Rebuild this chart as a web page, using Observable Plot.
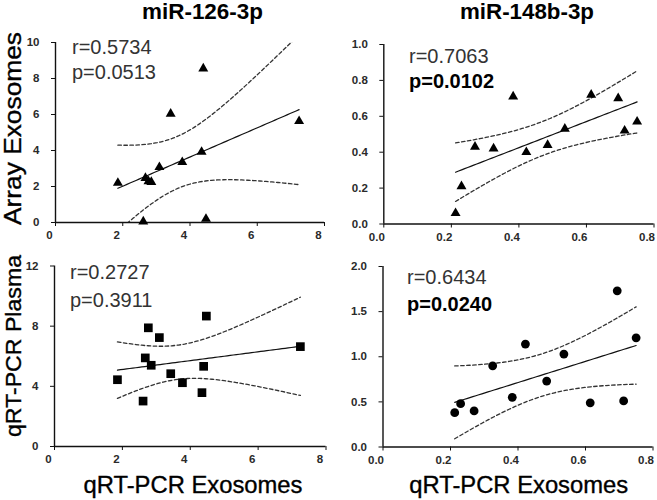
<!DOCTYPE html>
<html><head><meta charset="utf-8">
<script src="https://cdn.jsdelivr.net/npm/d3@7"></script>
<script src="https://cdn.jsdelivr.net/npm/@observablehq/plot@0.6"></script>
<style>
body{margin:0;background:#fff;}
#wrap{position:relative;width:657px;height:500px;overflow:hidden;font-family:"Liberation Sans",Arial,sans-serif;background:#fff;}
#wrap svg{position:absolute;left:0;top:0;}
</style></head><body><div id="wrap"></div>
<script>
// ---- data ----
const columnTitles = ["miR-126-3p", "miR-148b-3p"];
const rowLabels = ["Array Exosomes", "qRT-PCR Plasma"];
const xLabel = "qRT-PCR Exosomes";

// qRT-PCR exosome values (x), shared by the left column
const x126 = [1.855, 2.61, 2.675, 2.765, 2.85, 3.09, 3.425, 3.77, 4.345, 4.395, 4.475, 7.245];
const array126 = [2.2, 0.05, 2.47, 2.29, 2.25, 3.07, 6.04, 3.35, 3.92, 8.55, 0.2, 5.63];
const plasma126 = [4.44, 3.02, 5.89, 7.89, 5.40, 7.24, 4.84, 4.24, 3.58, 5.33, 8.67, 6.64];

// qRT-PCR exosome values (x), shared by the right column
const x148 = [0.2125, 0.23, 0.27, 0.325, 0.383, 0.422, 0.485, 0.536, 0.614, 0.694, 0.713, 0.75];
const array148 = [0.06, 0.21, 0.43, 0.42, 0.71, 0.40, 0.44, 0.53, 0.72, 0.70, 0.52, 0.57];
const plasma148 = [0.38, 0.48, 0.40, 0.90, 0.55, 1.14, 0.73, 1.03, 0.49, 1.73, 0.51, 1.21];

const stats = [
  {r: "r=0.5734", p: "p=0.0513", bold: false},
  {r: "r=0.7063", p: "p=0.0102", bold: true},
  {r: "r=0.2727", p: "p=0.3911", bold: false},
  {r: "r=0.6434", p: "p=0.0240", bold: true}
];

const ticksLeftX = [0, 2, 4, 6, 8];
const ticksRightX = [0, 0.2, 0.4, 0.6, 0.8];
const ticksArray126 = [0, 2, 4, 6, 8, 10];
const ticksPlasma126 = [0, 4, 8, 12];
const ticksArray148 = [0, 0.2, 0.4, 0.6, 0.8, 1.0];
const ticksPlasma148 = [0, 0.5, 1.0, 1.5, 2.0];

const T975 = {10: 2.228}; // Student t, 95% two-sided

const W = 657, H = 500;
const FONT = '"Liberation Sans", Arial, sans-serif';
const wrap = document.getElementById("wrap");

function panel(cfg) {
  const {xs, ys, xDomain, yDomain, xTicks, yTicks, frame, symbol, r, fmt, tdx} = cfg;
  const [x0, x1, yT, yB] = frame;
  const data = xs.map((x, i) => ({x, y: ys[i]}));
  const n = xs.length, mx = d3.mean(xs), my = d3.mean(ys);
  const sxx = d3.sum(xs, x => (x - mx) ** 2);
  const sxy = d3.sum(data, d => (d.x - mx) * (d.y - my));
  const b = sxy / sxx, a = my - b * mx;
  const s = Math.sqrt(d3.sum(data, d => (d.y - a - b * d.x) ** 2) / (n - 2));
  const t = T975[n - 2];
  const [lo, hi] = d3.extent(xs);
  const fit = d3.range(61).map(i => {
    const x = lo + (hi - lo) * i / 60, yh = a + b * x;
    const h = t * s * Math.sqrt(1 / n + (x - mx) ** 2 / sxx);
    return {x, y: yh, lo: yh - h, hi: yh + h};
  });
  return Plot.plot({
    width: W, height: H,
    marginLeft: x0, marginRight: W - x1, marginTop: yT, marginBottom: H - yB,
    style: {background: "transparent", overflow: "visible", fontFamily: FONT, fontSize: "11px", color: "#111"},
    x: {domain: xDomain, ticks: xTicks, tickSize: 4, tickFormat: () => "", label: null},
    y: {domain: yDomain, ticks: yTicks, tickSize: 4, tickFormat: () => "", label: null},
    marks: [
      Plot.ruleX([xDomain[0]], {stroke: "#111", strokeWidth: 1.4}),
      Plot.ruleY([yDomain[0]], {stroke: "#111", strokeWidth: 1.4}),
      Plot.line(fit, {x: "x", y: "hi", stroke: "#333", strokeWidth: 1.3, strokeDasharray: "3.5,2.5", clip: true}),
      Plot.line(fit, {x: "x", y: "lo", stroke: "#333", strokeWidth: 1.3, strokeDasharray: "3.5,2.5", clip: true}),
      Plot.line(fit, {x: "x", y: "y", stroke: "#111", strokeWidth: 1.2, clip: true}),
      Plot.dot(data, {x: "x", y: "y", symbol, r, fill: "#000", stroke: "none"}),
      Plot.text(xTicks, {x: d => d, y: () => yDomain[0], text: fmt, dy: 13, dx: tdx, fontSize: 11.5, fontWeight: "bold", fill: "#2a2a2a"}),
      Plot.text(yTicks, {x: () => xDomain[0], y: d => d, text: fmt, textAnchor: "end", dx: -16, fontSize: 11.5, fontWeight: "bold", fill: "#2a2a2a"})
    ]
  });
}

const fInt = d => String(d);
const f1 = d => d.toFixed(1);

wrap.append(panel({xs: x126, ys: array126, xDomain: [0, 8], yDomain: [0, 10], xTicks: ticksLeftX, yTicks: ticksArray126,
  frame: [55, 324, 42, 222], symbol: "triangle", r: 3.7, fmt: fInt, tdx: -6}));
wrap.append(panel({xs: x148, ys: array148, xDomain: [0, 0.8], yDomain: [0, 1], xTicks: ticksRightX, yTicks: ticksArray148,
  frame: [383.3, 653.5, 44, 223.5], symbol: "triangle", r: 3.7, fmt: f1, tdx: -7}));
wrap.append(panel({xs: x126, ys: plasma126, xDomain: [0, 8], yDomain: [0, 12], xTicks: ticksLeftX, yTicks: ticksPlasma126,
  frame: [54, 325.5, 265.5, 446], symbol: "square", r: 4.9, fmt: fInt, tdx: -6}));
wrap.append(panel({xs: x148, ys: plasma148, xDomain: [0, 0.8], yDomain: [0, 2], xTicks: ticksRightX, yTicks: ticksPlasma148,
  frame: [382.5, 652.5, 266, 446.5], symbol: "circle", r: 4.4, fmt: f1, tdx: -7}));

// ---- text overlay ----
const svg = d3.create("svg").attr("width", W).attr("height", H).attr("font-family", FONT);
svg.append("text").attr("x", 202.5).attr("y", 18.5).attr("text-anchor", "middle").attr("font-size", 22).attr("font-weight", "bold")
  .attr("textLength", 121).attr("lengthAdjust", "spacingAndGlyphs").text(columnTitles[0]);
svg.append("text").attr("x", 527).attr("y", 18.5).attr("text-anchor", "middle").attr("font-size", 22).attr("font-weight", "bold")
  .attr("textLength", 134).attr("lengthAdjust", "spacingAndGlyphs").text(columnTitles[1]);

const labelStroke = el => el.attr("stroke", "#000").attr("stroke-width", 0.35).attr("fill", "#000");

labelStroke(svg.append("text").attr("transform", "translate(20.5,128.5) rotate(-90)").attr("text-anchor", "middle")
  .attr("font-size", 23).attr("textLength", 193).attr("lengthAdjust", "spacingAndGlyphs").text(rowLabels[0]));
labelStroke(svg.append("text").attr("transform", "translate(20.5,346) rotate(-90)").attr("text-anchor", "middle")
  .attr("font-size", 22.5).attr("textLength", 182).attr("lengthAdjust", "spacingAndGlyphs").text(rowLabels[1]));

[193, 518.7].forEach(cx => labelStroke(svg.append("text").attr("x", cx).attr("y", 493).attr("text-anchor", "middle")
  .attr("font-size", 24).attr("textLength", 219).attr("lengthAdjust", "spacingAndGlyphs").text(xLabel)));

const statPos = [[72, 53.5, 78.5], [409, 62.5, 87.5], [70, 278.5, 306.5], [407, 283.5, 310.5]];
stats.forEach((s, i) => {
  const [x, yr, yp] = statPos[i];
  svg.append("text").attr("x", x).attr("y", yr).attr("font-size", 20).attr("fill", "#333").text(s.r);
  svg.append("text").attr("x", x).attr("y", yp).attr("font-size", 20)
    .attr("font-weight", s.bold ? "bold" : "normal").attr("fill", s.bold ? "#000" : "#333").text(s.p);
});
wrap.append(svg.node());
</script>
</body></html>
